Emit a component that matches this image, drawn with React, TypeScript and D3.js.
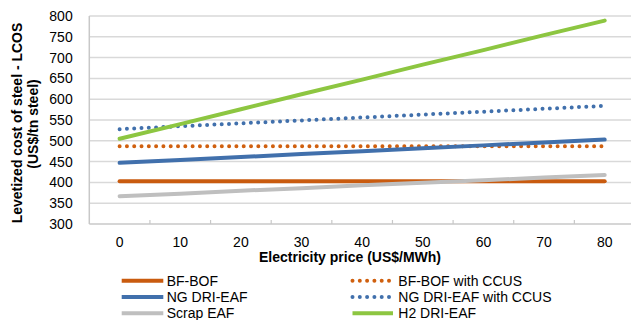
import React from "react";
import * as d3 from "d3";

const categories = ["0", "10", "20", "30", "40", "50", "60", "70", "80"];
const yTicks = [300, 350, 400, 450, 500, 550, 600, 650, 700, 750, 800];

const bfBof = [403, 403, 403, 403, 403, 403, 403, 403, 403];
const bfBofCcus = [487, 487, 487, 487, 487, 487, 487, 487, 487];
const ngDriEaf = [447, 454, 461, 468, 475, 482, 489, 496, 503];
const ngDriEafCcus = [528, 535, 542, 549, 556, 563, 570, 577, 584];
const scrapEaf = [367, 373, 380, 386, 393, 399, 405, 412, 418];
const h2DriEaf = [505, 540, 576, 612, 647, 683, 718, 754, 789];

const seriesNames = [
  "BF-BOF",
  "BF-BOF with CCUS",
  "NG DRI-EAF",
  "NG DRI-EAF with CCUS",
  "Scrap EAF",
  "H2 DRI-EAF",
];

const FONT = "'Liberation Sans', Arial, sans-serif";

export default function App() {
  const W = 631;
  const H = 320;
  const left = 89.3;
  const right = 635;
  const top = 16;
  const bottom = 224;

  const x = d3.scaleBand<string>().domain(categories).range([left, right]);
  const cx = (c: string) => (x(c) as number) + x.bandwidth() / 2;
  const y = d3.scaleLinear().domain([300, 800]).range([bottom, top]);

  const series = [
    { name: seriesNames[0], values: bfBof, color: "#C95B0F", dotted: false },
    { name: seriesNames[1], values: bfBofCcus, color: "#D0600F", dotted: true },
    { name: seriesNames[2], values: ngDriEaf, color: "#4170AC", dotted: false },
    { name: seriesNames[3], values: ngDriEafCcus, color: "#4170AC", dotted: true },
    { name: seriesNames[4], values: scrapEaf, color: "#BFBFBF", dotted: false },
    { name: seriesNames[5], values: h2DriEaf, color: "#8DC641", dotted: false },
  ];

  const line = d3
    .line<number>()
    .x((_, i) => cx(categories[i]))
    .y((v) => y(v));

  const legendRows = [280.7, 297, 313.3];
  const legendCols = [
    { x1: 121.7, x2: 163.3, tx: 166.7 },
    { x1: 352.5, x2: 393, tx: 398.3 },
  ];

  return (
    <svg
      width={W}
      height={H}
      style={{ position: "absolute", left: 0, top: 0, background: "#fff" }}
      fontFamily={FONT}
    >
      <rect x={0} y={0} width={W} height={H} fill="#fff" />
      {/* gridlines */}
      {yTicks.slice(1).map((t) => (
        <line
          key={t}
          x1={left}
          x2={W}
          y1={y(t)}
          y2={y(t)}
          stroke="#D9D9D9"
          strokeWidth={1.5}
        />
      ))}
      {/* axes */}
      <line x1={left} x2={left} y1={top} y2={bottom} stroke="#C8C8C8" strokeWidth={1.5} />
      <line x1={left} x2={W} y1={bottom} y2={bottom} stroke="#C8C8C8" strokeWidth={1.5} />
      {categories.slice(1).map((c) => (
        <line
          key={"tk" + c}
          x1={x(c) as number}
          x2={x(c) as number}
          y1={bottom}
          y2={bottom - 4}
          stroke="#C8C8C8"
          strokeWidth={1.2}
        />
      ))}
      {/* y tick labels */}
      {yTicks.map((t) => (
        <text
          key={"yl" + t}
          x={72.7}
          y={y(t) + 5}
          textAnchor="end"
          fontSize={14}
          fill="#000"
        >
          {t}
        </text>
      ))}
      {/* x tick labels */}
      {categories.map((c) => (
        <text key={"xl" + c} x={cx(c)} y={247} textAnchor="middle" fontSize={14} fill="#000">
          {c}
        </text>
      ))}
      {/* axis titles */}
      <text x={350} y={262} textAnchor="middle" fontSize={14} fontWeight="bold" fill="#000">
        Electricity price (US$/MWh)
      </text>
      <g transform="rotate(-90)">
        <text x={-123} y={22} textAnchor="middle" fontSize={14} fontWeight="bold" fill="#000">
          Levetized cost of steel - LCOS
        </text>
        <text x={-124} y={38} textAnchor="middle" fontSize={14} fontWeight="bold" fill="#000">
          (US$/tn steel)
        </text>
      </g>
      {/* series */}
      {series.map((s) => (
        <path
          key={s.name}
          d={line(s.values) as string}
          fill="none"
          stroke={s.color}
          strokeWidth={4}
          strokeLinecap="round"
          strokeDasharray={s.dotted ? "0 7.3" : undefined}
        />
      ))}
      {/* legend */}
      {series.map((s, i) => {
        const col = legendCols[i % 2];
        const ry = legendRows[Math.floor(i / 2)];
        return (
          <g key={"lg" + s.name}>
            <line
              x1={col.x1}
              x2={col.x2}
              y1={ry}
              y2={ry}
              stroke={s.color}
              strokeWidth={4}
              strokeLinecap={s.dotted ? "round" : "butt"}
              strokeDasharray={s.dotted ? "0 7.3" : undefined}
            />
            <text x={col.tx} y={ry + 5} fontSize={14} fill="#000">
              {s.name}
            </text>
          </g>
        );
      })}
    </svg>
  );
}
